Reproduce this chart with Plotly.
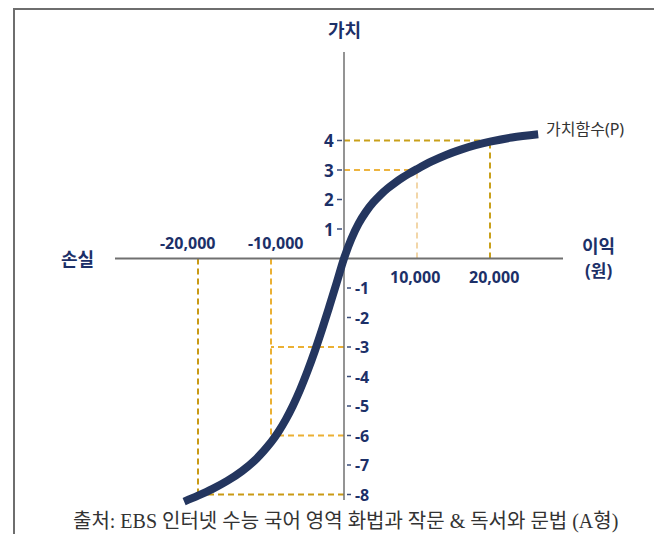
import plotly.graph_objects as go

# ---- data ----
curve_x = [-21900, -20000, -18000, -16000, -14000, -12000, -10000, -9000, -8000, -7000,
           -6000, -5000, -4000, -3000, -2000, -1000, 0,
           1000, 2000, 3000, 4000, 5000, 6000, 7000, 8000, 9000, 10000,
           12000, 14000, 16000, 18000, 20000, 23000, 26600]
curve_y = [-8.24, -8.04, -7.81, -7.54, -7.21, -6.79, -6.23, -5.88, -5.47, -4.99,
           -4.44, -3.82, -3.14, -2.40, -1.62, -0.82, 0,
           0.66, 1.18, 1.58, 1.90, 2.16, 2.38, 2.57, 2.74, 2.89, 3.03,
           3.29, 3.51, 3.69, 3.84, 3.96, 4.10, 4.21]

ytick_pos = [1, 2, 3, 4]
ytick_neg = [-1, -2, -3, -4, -5, -6, -7, -8]
xtick_vals = [-20000, -10000, 10000, 20000]
xtick_text = ["-20,000", "-10,000", "10,000", "20,000"]

guide_x = [20000, 10000, -10000, -10000, -20000]
guide_y = [4, 3, -3, -6, -8]
guide_hcol = ["#C9A01A", "#EDB43F", "#EBB033", "#EBB033", "#C99A14"]
guide_vcol = ["#C9A01A", "#F2D6A8", "#EBB033", "#EBB033", "#C99A14"]
guide_vert = [True, True, False, True, True]

source = "출처: EBS 인터넷 수능 국어 영역 화법과 작문 & 독서와 문법 (A형)"

# ---- geometry (screen px -> data) ----
OFF = 8                      # page body margin
W, H = 662 - OFF, 534 - OFF
X0PX, XS = 344, 73 / 10000.0
Y0PX, YS = 258.5, 29.5


def dx(px):
    return (px - X0PX) / XS


def dy(py):
    return (Y0PX - py) / YS


NAVY = "#1C3068"
FONT = "Noto Sans, Noto Sans CJK KR, sans-serif"

fig = go.Figure()

shapes = []
for gx, gy, hc, vc, v in zip(guide_x, guide_y, guide_hcol, guide_vcol, guide_vert):
    shapes.append(dict(type="line", xref="x", yref="y", x0=0, x1=gx, y0=gy, y1=gy,
                       line=dict(color=hc, width=2, dash="6px,4px"), layer="below"))
    if v:
        shapes.append(dict(type="line", xref="x", yref="y", x0=gx, x1=gx, y0=0, y1=gy,
                           line=dict(color=vc, width=2, dash="6px,4px"), layer="below"))

# axis lines
shapes.append(dict(type="line", xref="x", yref="y", x0=dx(115), x1=dx(563), y0=0, y1=0,
                   line=dict(color="#707070", width=2), layer="below"))
shapes.append(dict(type="line", xref="x", yref="y", x0=0, x1=0, y0=dy(52), y1=dy(500),
                   line=dict(color="#707070", width=1.5), layer="below"))

# tick marks
for t in ytick_pos:
    shapes.append(dict(type="line", xref="x", yref="y", x0=dx(337), x1=dx(342), y0=t, y1=t,
                       line=dict(color="#3A4C7A", width=1.5)))
for t in ytick_neg:
    shapes.append(dict(type="line", xref="x", yref="y", x0=dx(347), x1=dx(351), y0=t, y1=t,
                       line=dict(color="#3A4C7A", width=1.5)))

# frame
fx = (14 - OFF) / W
shapes.append(dict(type="line", xref="paper", yref="paper", x0=fx, x1=1, y0=1 - 1 / H, y1=1 - 1 / H,
                   line=dict(color="#6E6E6E", width=2)))
shapes.append(dict(type="line", xref="paper", yref="paper", x0=fx, x1=fx, y0=0, y1=1,
                   line=dict(color="#6E6E6E", width=2)))

fig.add_trace(go.Scatter(x=curve_x, y=curve_y, mode="lines",
                         line=dict(color="#24365F", width=8, shape="spline", smoothing=1.0),
                         hoverinfo="skip", showlegend=False))

ann = []
for t in ytick_pos:
    ann.append(dict(x=0, y=t, text=str(t), xanchor="right", yanchor="middle", xshift=-8,
                    font=dict(size=17, color=NAVY, family=FONT, weight="bold"), showarrow=False))
for t in ytick_neg:
    ann.append(dict(x=0, y=t, text=str(t), xanchor="left", yanchor="middle", xshift=9,
                    font=dict(size=16, color=NAVY, family=FONT, weight="bold"), showarrow=False))

xshift_map = {-20000: -11, -10000: 4, 10000: -2, 20000: 4}
for v, t in zip(xtick_vals, xtick_text):
    above = v < 0
    ann.append(dict(x=v, y=0, text=t, xanchor="center", yanchor="middle",
                    xshift=xshift_map[v], yshift=16 if above else -18,
                    font=dict(size=16, color=NAVY, family=FONT, weight="bold"), showarrow=False))

ann.append(dict(x=0, y=dy(30), text="가치", xanchor="center", yanchor="middle",
                font=dict(size=18, color=NAVY, family=FONT, weight="bold"), showarrow=False))
ann.append(dict(x=dx(77.5), y=0, text="손실", xanchor="center", yanchor="middle",
                font=dict(size=18, color=NAVY, family=FONT, weight="bold"), showarrow=False))
ann.append(dict(x=dx(598), y=dy(246), text="이익", xanchor="center", yanchor="middle",
                font=dict(size=18, color=NAVY, family=FONT, weight="bold"), showarrow=False))
ann.append(dict(x=dx(598), y=dy(270), text="(원)", xanchor="center", yanchor="middle",
                font=dict(size=17, color=NAVY, family=FONT, weight="bold"), showarrow=False))
ann.append(dict(x=dx(544), y=dy(129), text="가치함수(P)", xanchor="left", yanchor="middle",
                font=dict(size=16, color="#333333", family=FONT), showarrow=False))
ann.append(dict(x=0.5 * (dx(58) + dx(632)), y=dy(521), text=source, xanchor="center", yanchor="middle",
                font=dict(size=20, color="#333333", family="Liberation Serif, Noto Sans CJK KR, serif"),
                showarrow=False))

fig.update_layout(
    width=W, height=H,
    margin=dict(l=0, r=0, t=0, b=0),
    paper_bgcolor="white", plot_bgcolor="white",
    xaxis=dict(range=[dx(OFF), dx(OFF + W)], visible=False, fixedrange=True),
    yaxis=dict(range=[dy(OFF + H), dy(OFF)], visible=False, fixedrange=True),
    shapes=shapes, annotations=ann, showlegend=False,
)

fig.write_html("out.html")
